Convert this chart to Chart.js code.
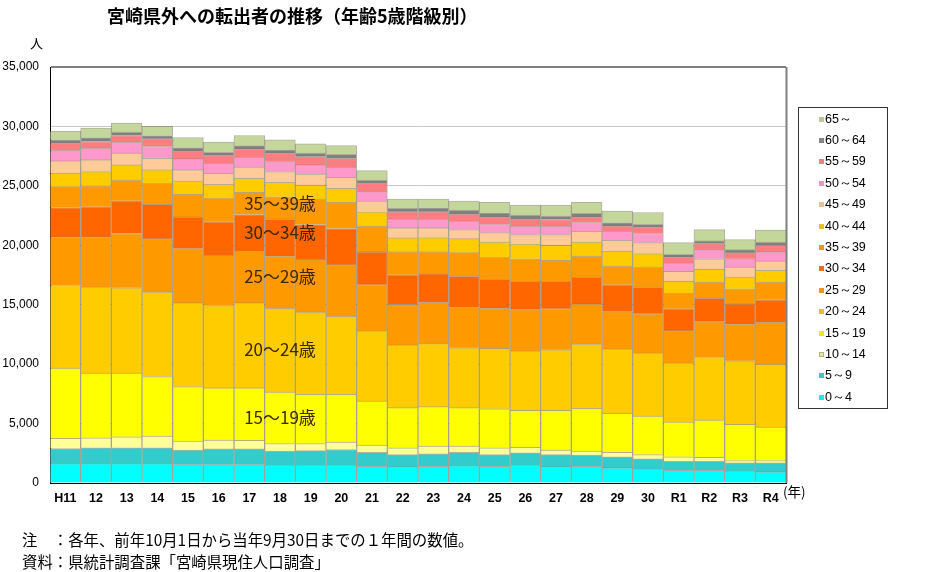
<!DOCTYPE html>
<html><head><meta charset="utf-8">
<script src="https://cdn.jsdelivr.net/npm/chart.js@4.4.0/dist/chart.umd.min.js"></script>
<style>
html,body{margin:0;padding:0;background:#fff;}
#wrap{position:relative;width:932px;height:572px;overflow:hidden;font-family:"Noto Sans CJK JP","Noto Sans",sans-serif;color:#000;}
#c{position:absolute;left:0;top:0;}
.t{position:absolute;white-space:nowrap;line-height:1;}
#title{left:107px;top:6px;font-size:18px;font-weight:bold;}
#unit{left:30px;top:36px;font-size:13px;}
#nen{left:783px;top:485px;font-size:13.5px;}
#note1{left:22px;top:532px;font-size:15.4px;}
#note2{left:22px;top:554px;font-size:15.4px;}
#legend{position:absolute;left:798px;top:107px;width:90px;height:302px;border:1px solid #333;box-sizing:border-box;}
#legend .it{position:absolute;left:20px;height:14px;display:flex;align-items:center;font-family:"Liberation Sans",Arial,sans-serif;font-size:12.5px;}
#legend .mk{display:inline-block;width:5px;height:5px;margin-right:1px;box-sizing:border-box;}
</style></head>
<body>
<div id="wrap">
<canvas id="c" width="932" height="572"></canvas>
<div class="t" id="title">宮崎県外への転出者の推移（年齢5歳階級別）</div>
<div class="t" id="unit">人</div>
<div class="t" id="nen">(年)</div>
<div class="t" id="note1">注　：各年、前年10月1日から当年9月30日までの１年間の数値。</div>
<div class="t" id="note2">資料：県統計調査課「宮崎県現住人口調査」</div>
<div id="legend"></div>
</div>
<script>
const categories = ['H11','12','13','14','15','16','17','18','19','20','21','22','23','24','25','26','27','28','29','30','R1','R2','R3','R4'];
const seriesNames = ['0～4','5～9','10～14','15～19','20～24','25～29','30～34','35～39','40～44','45～49','50～54','55～59','60～64','65～'];

const a0_4   = [1630,1630,1630,1630,1550,1550,1550,1490,1490,1490,1410,1350,1410,1460,1410,1490,1350,1410,1270,1180,1070,1070,990,930];
const a5_9   = [1270,1330,1330,1330,1210,1320,1320,1190,1240,1330,1180,1040,1040,1130,980,1050,1040,930,930,850,760,760,700,760];
const a10_14 = [850,840,930,980,760,740,710,640,590,620,590,570,650,510,570,470,370,340,390,360,370,340,200,200];
const a15_19 = [5910,5440,5350,5020,4590,4390,4420,4340,4140,4020,3720,3380,3320,3240,3290,3100,3350,3600,3270,3240,2930,3130,3040,2810];
const a20_24 = [6960,7240,7180,7100,7040,6930,7150,7040,6910,6570,5890,5270,5300,5040,5070,4990,5100,5410,5410,5300,4950,5260,5350,5300];
const a25_29 = [4080,4220,4570,4500,4570,4220,4340,4400,4420,4340,3890,3430,3490,3410,3380,3490,3440,3380,3150,3300,2740,3020,3100,3520];
const a30_34 = [2480,2540,2760,2880,2670,2820,3100,3100,2960,3040,2760,2480,2400,2620,2430,2370,2310,2250,2260,2250,1830,1970,1690,1890];
const a35_39 = [1750,1770,1740,1770,1890,2030,1860,1880,2140,2200,2170,1920,1830,1970,1860,1910,1770,1780,1570,1690,1320,1350,1270,1490];
const a40_44 = [1130,1190,1270,1130,1130,1130,1180,1220,1180,1180,1210,1180,1210,1180,1290,1240,1270,1180,1240,1130,990,1070,980,990];
const a45_49 = [1040,980,990,980,930,930,960,900,930,930,900,840,810,760,790,790,900,900,930,930,840,900,850,790];
const a50_54 = [870,990,930,990,930,840,820,840,760,840,790,740,740,710,680,710,710,740,760,760,710,760,700,760];
const a55_59 = [620,560,560,650,670,650,700,710,700,760,700,620,620,590,640,590,560,470,450,530,500,510,510,560];
const a60_64 = [280,340,280,280,290,280,280,280,290,340,280,280,330,340,340,340,280,290,290,250,230,230,250,280];
const a65    = [710,790,760,760,840,850,850,840,790,730,790,790,740,760,880,840,930,930,950,990,990,950,850,990];

const yTicks = [0,5000,10000,15000,20000,25000,30000,35000];

const seriesData = [a0_4,a5_9,a10_14,a15_19,a20_24,a25_29,a30_34,a35_39,a40_44,a45_49,a50_54,a55_59,a60_64,a65];
const seriesColors = ['#00FFFF','#33CCCC','#FFFF99','#FFFF00','#FFCC00','#FF9900','#FF6600','#FF9900','#FFCC00','#FFCC99','#FF99CC','#FF7C80','#808080','#C4D79B'];

const annotations = [
  {text:'35～39歳', cat:7, y:23470},
  {text:'30～34歳', cat:7, y:21100},
  {text:'25～29歳', cat:7, y:17370},
  {text:'20～24歳', cat:7, y:11270},
  {text:'15～19歳', cat:7, y:5510}
];

function muted(hex){
  const n=parseInt(hex.slice(1),16);
  const r=(n>>16)&255,g=(n>>8)&255,b=n&255;
  const m=(v)=>Math.round(v*0.78+150*0.22);
  return 'rgb('+m(r)+','+m(g)+','+m(b)+')';
}

const framePlugin = {
  id:'frame',
  beforeDatasetsDraw(chart){
    const {ctx, chartArea:a} = chart;
    ctx.save();
    ctx.strokeStyle='#7f7f7f'; ctx.lineWidth=2;
    ctx.beginPath(); ctx.moveTo(a.right+0.5,a.top); ctx.lineTo(a.right+0.5,a.bottom); ctx.stroke();
    ctx.restore();
  }
};

const annotPlugin = {
  id:'annot',
  afterDatasetsDraw(chart){
    const {ctx, scales:{x,y}} = chart;
    ctx.save();
    ctx.font='17px "Noto Sans CJK JP"';
    ctx.fillStyle='#3a2800';
    ctx.textAlign='center'; ctx.textBaseline='middle';
    annotations.forEach(a=>{ ctx.fillText(a.text, x.getPixelForValue(a.cat), y.getPixelForValue(a.y)); });
    ctx.restore();
  }
};

const htmlLegend = {
  id:'htmlLegend',
  afterUpdate(chart){
    const box=document.getElementById('legend');
    box.innerHTML='';
    const items = chart.options.plugins.legend.labels.generateLabels(chart).slice().reverse();
    items.forEach((it,i)=>{
      const d=document.createElement('div'); d.className='it';
      d.style.top=(4+i*21.4)+'px';
      const mk=document.createElement('span'); mk.className='mk';
      const col=seriesColors[it.datasetIndex];
      mk.style.background=muted(col);
      mk.style.border='1px solid '+muted(col);
      if(it.datasetIndex===2){ mk.style.border='1px solid #b0b080'; }
      const tx=document.createElement('span'); tx.textContent=it.text;
      d.appendChild(mk); d.appendChild(tx); box.appendChild(d);
    });
  }
};

new Chart(document.getElementById('c'), {
  type:'bar',
  data:{
    labels:categories,
    datasets:seriesData.map((d,i)=>({
      label:seriesNames[i], data:d,
      backgroundColor:seriesColors[i],
      borderColor:'rgba(120,110,90,0.55)', borderWidth:1,
      categoryPercentage:1, barPercentage:1
    }))
  },
  options:{
    responsive:false, animation:false,
    layout:{padding:{left:3,top:67,right:146,bottom:58}},
    plugins:{legend:{display:false}, tooltip:{enabled:false}, title:{display:false}},
    scales:{
      x:{stacked:true,
         grid:{display:false,drawTicks:false},
         border:{color:'#000',width:1},
         ticks:{color:'#000',font:{family:'Liberation Sans',size:12.5,weight:'bold'},padding:8,maxRotation:0,autoSkip:false}},
      y:{stacked:true,min:0,max:35000,
         afterBuildTicks(s){ s.ticks = yTicks.map(v=>({value:v})); },
         afterFit(s){ s.width = 47; },
         ticks:{color:'#000',font:{family:'Liberation Sans',size:12},padding:11,
                callback:v=>Number(v).toLocaleString('en-US')},
         grid:{color:c=>c.tick && c.tick.value===35000?'#7f7f7f':'#c8c8c8',
               lineWidth:c=>c.tick && c.tick.value===35000?2:1, drawTicks:false},
         border:{color:'#000',width:1}}
    }
  },
  plugins:[framePlugin, annotPlugin, htmlLegend]
});
</script>
</body></html>
